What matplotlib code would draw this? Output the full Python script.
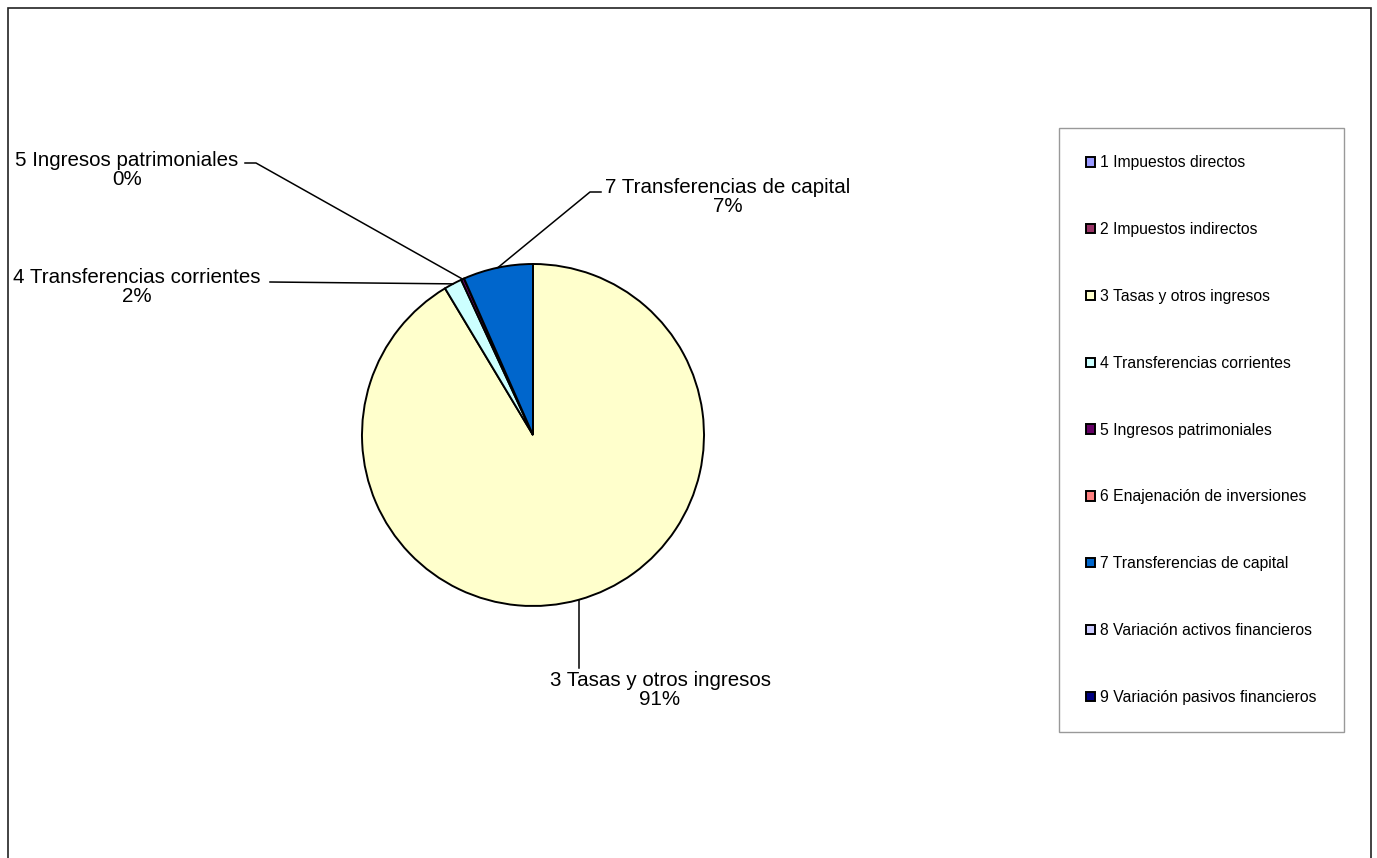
import numpy as np
import matplotlib
matplotlib.use('Agg')
import matplotlib.pyplot as plt
from matplotlib.patches import Patch, Rectangle

plt.rcParams['font.family'] = ['Liberation Sans', 'DejaVu Sans']

categorias = ['1 Impuestos directos', '2 Impuestos indirectos', '3 Tasas y otros ingresos',
              '4 Transferencias corrientes', '5 Ingresos patrimoniales',
              '6 Enajenación de inversiones', '7 Transferencias de capital',
              '8 Variación activos financieros', '9 Variación pasivos financieros']
valores = [0.0, 0.0, 91.4, 1.7, 0.3, 0.0, 6.6, 0.0, 0.0]
colores = ['#9999FF', '#993366', '#FFFFCC', '#CCFFFF', '#660066',
           '#FF8080', '#0066CC', '#CCCCFF', '#000080']
etiquetas = ['3 Tasas y otros ingresos\n91%', '4 Transferencias corrientes\n2%',
             '5 Ingresos patrimoniales\n0%', '7 Transferencias de capital\n7%']

W, H = 1377, 858
fig = plt.figure(figsize=(W / 100, H / 100), dpi=100)

# marco exterior
fig.patches.append(Rectangle((8 / W, -0.01), (1371 - 8) / W, 1.01 - 8 / H,
                             transform=fig.transFigure, fill=False,
                             edgecolor='#222222', linewidth=1.2))

# tarta: centro (533, 435) px, radio 171 px
cx, cy, r = 533, 435, 171
ax = fig.add_axes([(cx - r) / W, (H - cy - r) / H, 2 * r / W, 2 * r / H])

wedges, _ = ax.pie(valores, colors=colores, startangle=90, counterclock=False,
                   radius=1, wedgeprops=dict(edgecolor='black', linewidth=1.4))
ax.set_xlim(-1, 1)
ax.set_ylim(-1, 1)
ax.axis('off')


def px(x, y):
    return (x - cx) / r, (cy - y) / r


def punto(i):
    w = wedges[i]
    a = np.deg2rad((w.theta1 + w.theta2) / 2)
    return np.cos(a), np.sin(a)


kw = dict(fontsize=14.8, ha='center', va='center', linespacing=1.0,
          annotation_clip=False)
lk = dict(color='black', linewidth=1.1, clip_on=False)

# 3 Tasas
p = punto(2)
ax.plot([p[0], p[0]], [p[1], px(0, 668)[1]], **lk)
ax.annotate(etiquetas[0], xy=px(660, 690), **kw)

# 4 Transferencias corrientes
p = punto(3)
a = px(270, 282)
ax.plot([a[0], p[0]], [a[1], p[1]], **lk)
ax.annotate(etiquetas[1], xy=px(137, 287), **kw)

# 5 Ingresos patrimoniales
p = punto(4)
a, b = px(245, 163), px(256, 163)
ax.plot([a[0], b[0], p[0]], [a[1], b[1], p[1]], **lk)
ax.annotate(etiquetas[2], xy=px(127, 170), **kw)

# 7 Transferencias de capital
p = punto(6)
a, b = px(601, 192), px(590, 192)
ax.plot([a[0], b[0], p[0]], [a[1], b[1], p[1]], **lk)
ax.annotate(etiquetas[3], xy=px(728, 197), **kw)

handles = [Patch(facecolor=c, edgecolor='black', linewidth=1.4) for c in colores]
leg = fig.legend(handles, categorias, loc='upper left',
                 bbox_to_anchor=(1059 / W, 1 - 128 / H), fontsize=11.3,
                 handlelength=0.55, handleheight=0.55, handletextpad=0.3,
                 labelspacing=3.3, borderpad=1.75, borderaxespad=0,
                 fancybox=False, frameon=True)
leg.get_frame().set_edgecolor('#808080')
leg.get_frame().set_linewidth(1.0)

fig.savefig('out.png', dpi=100)
